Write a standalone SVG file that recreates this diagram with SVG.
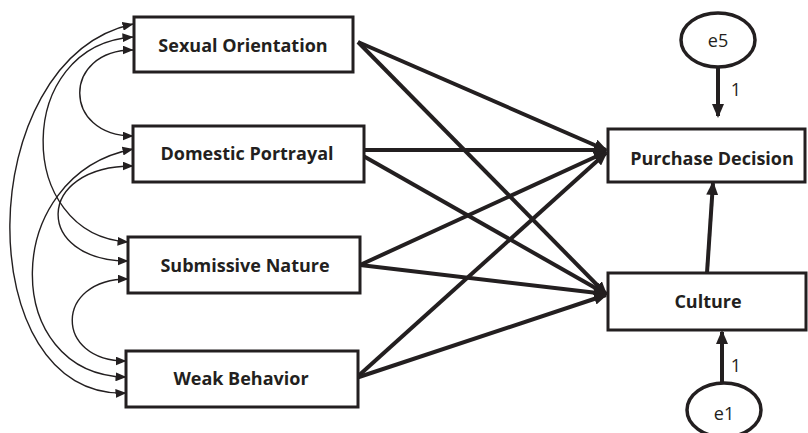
<svg xmlns="http://www.w3.org/2000/svg" width="808" height="433" viewBox="0 0 808 433">
<defs>
<style>
.box{fill:#fff;stroke:#231f20;stroke-width:3}
.lbl{font-family:"Open Sans",Lato,sans-serif;font-weight:bold;font-size:18px;fill:#231f20;text-anchor:middle}
.err{fill:#fff;stroke:#231f20;stroke-width:3.5}
.etx{font-family:"Open Sans","DejaVu Sans",sans-serif;font-weight:normal;font-size:18px;fill:#231f20;text-anchor:middle}
.cov{fill:none;stroke:#231f20;stroke-width:1.4;marker-start:url(#ah);marker-end:url(#ah)}
.path{fill:none;stroke:#231f20;stroke-width:4;marker-end:url(#bh)}
</style>
<marker id="ah" viewBox="0 0 11 9" refX="10.5" refY="4.5" markerWidth="11" markerHeight="9" markerUnits="userSpaceOnUse" orient="auto-start-reverse">
<path d="M0,0 L11,4.5 L0,9 z" fill="#231f20"/>
</marker>
<marker id="bh" viewBox="0 0 14 12" refX="12" refY="6" markerWidth="14" markerHeight="12" markerUnits="userSpaceOnUse" orient="auto">
<path d="M0,0 L14,6 L0,12 z" fill="#231f20"/>
</marker>
</defs>
<rect width="808" height="433" fill="#fff"/>
<g id="connectors">
<path class="cov" d="M133,24 C-30,60 -30,400 126,393"/>
<path class="cov" d="M133,37 C14,45 14,235 128,242"/>
<path class="cov" d="M133,50 C62,50 62,136 133,136"/>
<path class="cov" d="M133,149 C0,175 0,375 126,377"/>
<path class="cov" d="M133,166 C34,166 34,261 128,261"/>
<path class="cov" d="M128,279 C54,279 54,361 126,361"/>
<line class="path" x1="358" y1="42" x2="606" y2="150"/>
<line class="path" x1="358" y1="42" x2="606" y2="294"/>
<line class="path" x1="354" y1="150" x2="606" y2="150"/>
<line class="path" x1="358" y1="153" x2="606" y2="294"/>
<line class="path" x1="360" y1="265" x2="606" y2="152"/>
<line class="path" x1="360" y1="265" x2="606" y2="294"/>
<line class="path" x1="356" y1="378" x2="606" y2="153"/>
<line class="path" x1="356" y1="378" x2="606" y2="295"/>
<line class="path" x1="707" y1="273" x2="713" y2="183"/>
<line class="path" x1="718" y1="67" x2="718" y2="116"/>
<line class="path" x1="722" y1="383" x2="722" y2="332"/>
<text class="etx" x="736" y="96" font-size="16">1</text>
<text class="etx" x="736" y="372" font-size="16">1</text>
</g>
<g id="sexual-orientation"><rect class="box" x="134" y="17" width="219" height="55"/><text class="lbl" x="243" y="52">Sexual Orientation</text></g>
<g id="domestic-portrayal"><rect class="box" x="133" y="126" width="231" height="56"/><text class="lbl" x="247" y="160">Domestic Portrayal</text></g>
<g id="submissive-nature"><rect class="box" x="128" y="237" width="232" height="56"/><text class="lbl" x="245" y="272">Submissive Nature</text></g>
<g id="weak-behavior"><rect class="box" x="126" y="351" width="232" height="56"/><text class="lbl" x="241" y="385">Weak Behavior</text></g>
<g id="purchase-decision"><rect class="box" x="608" y="129" width="197" height="53"/><text class="lbl" x="712" y="165">Purchase Decision</text></g>
<g id="culture"><rect class="box" x="608" y="273" width="198" height="57"/><text class="lbl" x="708" y="308">Culture</text></g>
<g id="e5"><ellipse class="err" cx="718" cy="40" rx="37" ry="27"/><text class="etx" x="718" y="47">e5</text></g>
<g id="e1"><ellipse class="err" cx="724" cy="410" rx="37" ry="27"/><text class="etx" x="724" y="420">e1</text></g>
</svg>
